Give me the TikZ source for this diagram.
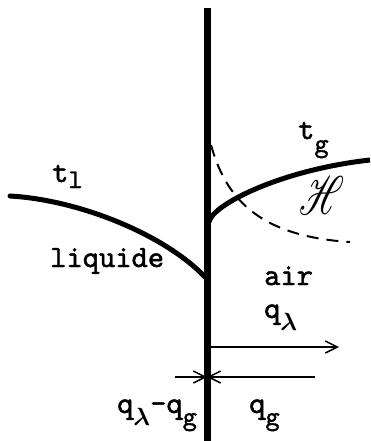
\documentclass[tikz,border=0pt]{standalone}
\usepackage{fontspec}
\usepackage{mathrsfs}
\usetikzlibrary{arrows.meta}
\newfontfamily\twfont{lmmono10-regular.otf}[FakeBold=1.5]
\begin{document}
\begin{tikzpicture}[x=1pt,y=-1pt,
  lbl/.style={font=\twfont\fontsize{31}{31}\selectfont, inner sep=0pt, anchor=base west},
  curve/.style={line width=5pt},
  flux/.style={line width=1.5pt, -{Straight Barb[length=12pt,width=12pt,line width=1.5pt]}},
  wall/.style={line width=7pt}]
\newcommand{\sbx}[2]{\raisebox{-#1pt}{\fontsize{27}{27}\selectfont #2}}
\newcommand{\lam}{\mbox{\boldmath$\lambda$}}
\useasboundingbox (0,0) rectangle (370,441);
% wall
\coordinate (top) at (207,8);
\coordinate (bot) at (207,441);
\draw[wall] (top) -- (bot);
% liquid temperature profile
\coordinate (l0) at (10,196);
\coordinate (l1) at (205,277);
\draw[curve, line cap=round] (l0) .. controls (80,200) and (165,235) .. (l1);
% gas temperature profile
\coordinate (g0) at (209,222);
\coordinate (g1) at (370,160);
\draw[curve] (g0) .. controls (212,205) and (280,170) .. (g1);
% humidity profile
\coordinate (h0) at (211,145);
\coordinate (h1) at (350,242);
\draw[line width=2pt, dash pattern=on 12pt off 8pt] (h0) .. controls (225,195) and (255,236) .. (h1);
% fluxes
\coordinate (a0) at (210,347);
\coordinate (a1) at (339,347);
\draw[flux] (a0) -- (a1);
\coordinate (b0) at (315,377);
\coordinate (b1) at (207,377);
\draw[flux] (b0) -- (b1);
\coordinate (c0) at (175,377);
\coordinate (c1) at (207,377);
\draw[flux] (c0) -- (c1);
% labels
\node[lbl] (tl) at (52,182) {t\sbx{6}{l}};
\node[lbl] (liq) at (50,267) {liquide};
\node[lbl] (tg) at (298,139) {t\sbx{13}{g}};
\node[inner sep=0pt] (H) at (322,195) {\resizebox{45pt}{38pt}{$\mathscr{H}$}};
\node[lbl] (air) at (264,285) {air};
\node[lbl] (ql) at (264,318) {q\sbx{12}{\lam}};
\node[lbl] (qlg) at (117,413) {q\sbx{12}{\lam}-q\sbx{12}{g}};
\node[lbl] (qg) at (249,413) {q\sbx{12}{g}};
\end{tikzpicture}
\end{document}
